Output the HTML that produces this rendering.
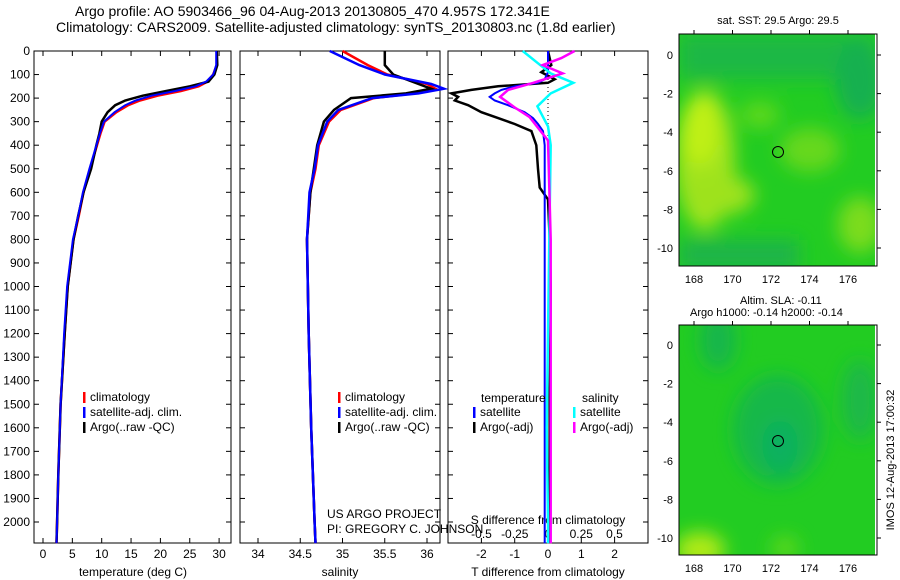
<!DOCTYPE html>
<html><head><meta charset="utf-8"><style>
html,body{margin:0;padding:0;background:#fff;}
svg{display:block;font-family:"Liberation Sans",sans-serif;}
text{font-size:12px;fill:#000;}
</style></head><body>
<svg id="fig" width="900" height="580" xmlns="http://www.w3.org/2000/svg">
<defs>
<filter id="bl" x="-50%" y="-50%" width="200%" height="200%"><feGaussianBlur stdDeviation="9"/></filter>
<clipPath id="c1"><rect x="679" y="34" width="196" height="232"/></clipPath>
<clipPath id="c2"><rect x="679" y="325" width="196" height="230"/></clipPath>
</defs>
<text x="75" y="16" style="font-size:14px">Argo profile: AO 5903466_96 04-Aug-2013 20130805_470 4.957S 172.341E</text>
<text x="56" y="44" style="font-size:14px" textLength="0"></text>
<text x="56" y="32" style="font-size:14px">Climatology: CARS2009. Satellite-adjusted climatology: synTS_20130803.nc (1.8d earlier)</text>
<g id="panels"></g>
<!-- maps -->
<g clip-path="url(#c1)">
<rect x="679" y="34" width="196" height="232" fill="#22cc22"/>
<g filter="url(#bl)">
<rect x="679" y="34" width="196" height="45" fill="#1cb844"/>
<ellipse cx="705" cy="160" rx="30" ry="70" fill="#a2e41c"/>
<ellipse cx="700" cy="130" rx="18" ry="35" fill="#c0f018"/>
<ellipse cx="720" cy="195" rx="35" ry="20" fill="#9ee21c"/>
<ellipse cx="810" cy="150" rx="30" ry="22" fill="#66d81c"/>
<ellipse cx="760" cy="115" rx="20" ry="14" fill="#5cd81e"/>
<ellipse cx="860" cy="225" rx="22" ry="28" fill="#7cdc1c"/>
<rect x="679" y="240" width="120" height="30" fill="#1cb448"/>
<ellipse cx="860" cy="80" rx="25" ry="40" fill="#18b050"/>
</g>
<rect x="875" y="34" width="3" height="232" fill="#fff"/>
<circle cx="778" cy="152" r="5.5" fill="none" stroke="#000" stroke-width="1"/>
</g>
<rect x="679" y="34" width="198" height="232" fill="none" stroke="#000"/>
<g clip-path="url(#c2)">
<rect x="679" y="325" width="196" height="230" fill="#22cc22"/>
<g filter="url(#bl)">
<ellipse cx="778" cy="430" rx="45" ry="55" fill="#14b848"/>
<ellipse cx="780" cy="445" rx="18" ry="25" fill="#10b060"/>
<ellipse cx="718" cy="340" rx="18" ry="30" fill="#18b64c"/>
<ellipse cx="860" cy="400" rx="18" ry="40" fill="#1cb848"/>
<ellipse cx="700" cy="550" rx="25" ry="18" fill="#b0ea18"/>
<ellipse cx="785" cy="548" rx="14" ry="12" fill="#5cd81c"/>
</g>
<rect x="875" y="325" width="3" height="230" fill="#fff"/>
<circle cx="778" cy="441" r="5.5" fill="none" stroke="#000" stroke-width="1"/>
</g>
<rect x="679" y="325" width="198" height="230" fill="none" stroke="#000"/>
<text x="778" y="24" text-anchor="middle" style="font-size:11px">sat. SST: 29.5  Argo: 29.5</text>
<text x="740" y="304" style="font-size:11px">Altim. SLA: -0.11</text>
<text x="690" y="316" style="font-size:11px">Argo h1000: -0.14 h2000: -0.14</text>
<text transform="translate(894,460) rotate(-90)" text-anchor="middle" style="font-size:11px">IMOS 12-Aug-2013 17:00:32</text>
<g id="mapaxes"></g>
<text x="327" y="518">US ARGO PROJECT</text>
<text x="327" y="533">PI: GREGORY C. JOHNSON</text>
</svg>
<script>
const NS="http://www.w3.org/2000/svg";
const svg=document.getElementById('fig');
// ---------- data ----------
const depthTicks=[0,100,200,300,400,500,600,700,800,900,1000,1100,1200,1300,1400,1500,1600,1700,1800,1900,2000];
const tempTicks=[0,5,10,15,20,25,30];
const salTicks=[34,34.5,35,35.5,36];
const salTickLabels=["34","34.5","35","35.5","36"];
const dTTicks=[-2,-1,0,1,2];
const dSTicks=[-0.5,-0.25,0,0.25,0.5];
const dSTickLabels=["-0.5","-0.25","0","0.25","0.5"];
const tDepth=[0,60,100,130,150,170,190,210,230,260,300,350,400,500,600,700,800,1000,1200,1500,1800,2000,2090];
const tClim=[29.6,29.6,29.0,28.0,26.5,23.5,19.5,16.5,14.5,12.5,10.5,9.8,9.2,8.0,6.9,6.1,5.2,4.2,3.7,3.0,2.6,2.4,2.3];
const tSat =[29.5,29.5,29.0,27.8,26.0,22.5,18.5,15.8,14.0,12.2,10.4,9.7,9.1,7.9,6.8,6.0,5.1,4.1,3.6,3.0,2.6,2.4,2.3];
const tArgo=[29.6,29.7,29.2,28.2,25.0,21.0,17.0,14.0,12.3,11.0,10.0,9.6,9.1,8.2,6.9,6.0,5.2,4.2,3.7,3.0,2.6,2.4,2.3];
const sDepth=[0,60,100,140,160,180,200,250,300,400,500,600,800,1200,1600,2000,2090];
const sClim=[35.0,35.3,35.53,36.0,36.1,35.85,35.37,34.98,34.84,34.72,34.68,34.62,34.58,34.60,34.63,34.67,34.68];
const sSat =[34.85,35.2,35.5,36.05,36.2,35.9,35.35,34.95,34.82,34.71,34.67,34.61,34.58,34.60,34.63,34.67,34.68];
const sArgo=[35.5,35.5,35.6,35.9,36.05,35.75,35.1,34.9,34.78,34.7,34.66,34.62,34.58,34.60,34.63,34.67,34.68];
const dDepth=[0,60,90,120,135,150,165,180,195,210,230,260,285,310,340,400,500,580,630,800,1000,1500,2000,2090];
const dTArgo=[0,0.1,-0.2,0.2,0,-1.5,-2.3,-2.9,-2.7,-2.8,-2.4,-2.0,-1.5,-1.0,-0.5,-0.35,-0.3,-0.25,0,0.05,0.08,0.05,0.05,0.05];
const dTSat=[0,0,0,-0.1,-0.3,-1.0,-1.4,-1.6,-1.75,-1.6,-1.2,-0.7,-0.45,-0.3,-0.15,-0.1,-0.1,-0.1,-0.1,-0.1,-0.1,-0.1,-0.1,-0.1];
const dSDepth=[0,50,95,135,180,235,320,400,800,1200,1600,2000,2090];
const dSSat=[-0.19,-0.08,0.02,0.19,0.02,-0.08,0,0.02,0.01,0,-0.01,0,0];
const dSArgoDepth=[0,30,60,95,135,165,195,240,280,380,800,1500,2000,2090];
const dSArgo=[0.2,0.1,-0.04,0.11,-0.11,-0.3,-0.36,-0.25,-0.14,0,0.02,0.02,0.02,0.02];
const lonTicks=[168,170,172,174,176];
const latTicks=[0,-2,-4,-6,-8,-10];
// ---------- helpers ----------
const Y0=51,YTOP=51,YBOT=543;
const yD=d=>Y0+d*0.2355;
function el(tag,attrs,parent){const e=document.createElementNS(NS,tag);for(const k in attrs)e.setAttribute(k,attrs[k]);(parent||svg).appendChild(e);return e;}
function txt(x,y,s,anchor,size){const t=el('text',{x:x,y:y,'text-anchor':anchor||'start'});if(size)t.style.fontSize=size+'px';t.textContent=s;return t;}
function line(xf,vals,depths,color,w,name){
  const p=vals.map((v,i)=>xf(v).toFixed(1)+','+yD(depths[i]).toFixed(1)).join(' ');
  const e=el('polyline',{points:p,fill:'none',stroke:color,'stroke-width':w});
  
  
}
function frame(x0,x1,name){
  const r=el('rect',{x:x0,y:YTOP,width:x1-x0,height:YBOT-YTOP,fill:'none',stroke:'#000'});
  
  
}
function xticks(x0,x1,ticks,labels,xf,name){
  ticks.forEach((t,i)=>{const x=xf(t);
    el('line',{x1:x,x2:x,y1:YBOT,y2:YBOT-5,stroke:'#000'});
    el('line',{x1:x,x2:x,y1:YTOP,y2:YTOP+5,stroke:'#000'});
    const l=txt(x,558,labels[i],'middle');
    
    
  });
}
function yticks(x0,x1,labels){
  depthTicks.forEach(d=>{const y=yD(d);
    el('line',{x1:x0,x2:x0+5,y1:y,y2:y,stroke:'#000'});
    el('line',{x1:x1,x2:x1-5,y1:y,y2:y,stroke:'#000'});
    if(labels){const l=txt(x0-4,y+4,String(d),'end');
      
      }
  });
}
function legend(x,y,items,name){
  items.forEach((it,i)=>{
    el('rect',{x:x,y:y+i*15-9,width:2.5,height:11,fill:it[1]});
    const t=txt(x+7,y+i*15,it[0]);
    
    
  });
}
// ---------- panel 1 temperature ----------
const xT=v=>43+v*5.87;
frame(34,231,'temperature-panel');
yticks(34,231,true);
xticks(34,231,tempTicks,tempTicks.map(String),xT,'temperature');
line(xT,tClim,tDepth,'#f00',2.5,'temperature-climatology-line');
line(xT,tArgo,tDepth,'#000',2.5,'temperature-argo-line');
line(xT,tSat,tDepth,'#00f',2,'temperature-satellite-line');
let a=txt(133,576,'temperature (deg C)','middle');
legend(83,401,[['climatology','#f00'],['satellite-adj. clim.','#00f'],['Argo(..raw -QC)','#000']],'temperature-legend');
// ---------- panel 2 salinity ----------
const xS=v=>258+(v-34)*84.5;
frame(240,440,'salinity-panel');
yticks(240,440,false);
xticks(240,440,salTicks,salTickLabels,xS,'salinity');
line(xS,sClim,sDepth,'#f00',2.5,'salinity-climatology-line');
line(xS,sArgo,sDepth,'#000',2.5,'salinity-argo-line');
line(xS,sSat,sDepth,'#00f',2.5,'salinity-satellite-line');
a=txt(340,576,'salinity','middle');
legend(338,401,[['climatology','#f00'],['satellite-adj. clim.','#00f'],['Argo(..raw -QC)','#000']],'salinity-legend');
// ---------- panel 3 differences ----------
const xdT=v=>548+v*33.3;
const xdS=v=>548+v*133;
frame(448,648,'difference-panel');
yticks(448,648,false);
xticks(448,648,dTTicks,dTTicks.map(String),xdT,'t-difference');
el('line',{x1:548,x2:548,y1:YTOP,y2:150,stroke:'#000','stroke-dasharray':'1,3'});
dSTicks.forEach((t,i)=>{const l=txt(xdS(t),538,dSTickLabels[i],'middle');
  
  });
a=txt(548,524,'S difference from climatology','middle');
a=txt(548,576,'T difference from climatology','middle');
line(xdT,dTArgo,dDepth,'#000',2.5,'t-difference-argo-line');
line(xdT,dTSat,dDepth,'#00f',2,'t-difference-satellite-line');
line(xdS,dSSat,dSDepth,'#0ff',2.5,'s-difference-satellite-line');
line(xdS,dSArgo,dSArgoDepth,'#f0f',2.5,'s-difference-argo-line');
a=txt(481,402,'temperature');
a=txt(582,402,'salinity');
legend(473,416,[['satellite','#00f'],['Argo(-adj)','#000']],'t-difference-legend');
legend(573,416,[['satellite','#0ff'],['Argo(-adj)','#f0f']],'s-difference-legend');
// ---------- map axes ----------
const lonX=l=>694+(l-168)*19.25;
function mapAxes(top,bot,lat0){
  const latY=l=>lat0-l*19.3;
  lonTicks.forEach(l=>{const x=lonX(l);
    el('line',{x1:x,x2:x,y1:top,y2:top-4,stroke:'#000'});
    const t=txt(x,bot+17,String(l),'middle',11);
    
    });
  latTicks.forEach(l=>{const y=latY(l);
    el('line',{x1:877,x2:881,y1:y,y2:y,stroke:'#000'});
    const t=txt(673,y+4,String(l),'end',11);
    
    });
}
mapAxes(34,266,55);
mapAxes(325,555,345);
</script>
</body></html>
